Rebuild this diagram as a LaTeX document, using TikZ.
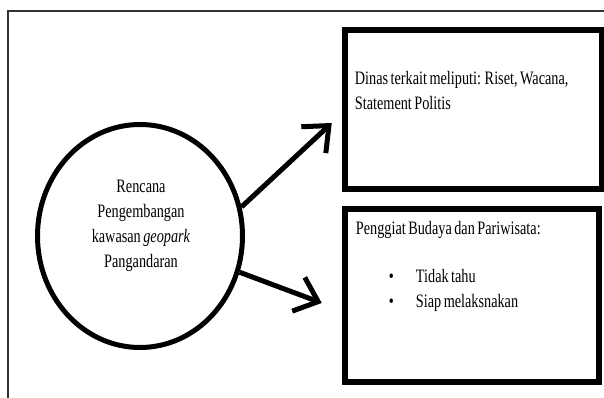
\documentclass[tikz,border=0pt]{standalone}
\usepackage{fontspec}
\setmainfont{Liberation Serif}[FakeStretch=0.75, WordSpace=0.7]
\usetikzlibrary{positioning,arrows.meta,shapes.geometric}
\definecolor{framegray}{RGB}{50,50,50}
\tikzset{
  planshape/.style={ellipse, draw, line width=5pt, minimum width=205pt,
                    minimum height=223pt, inner sep=0pt},
  infobox/.style={rectangle, draw, line width=6.5pt, inner sep=0pt},
  txt/.style={font=\fontsize{19}{25}\selectfont, inner sep=0pt, align=left},
  arrow/.style={-{Straight Barb[length=21pt, width=36pt]}, line width=5pt}
}

\begin{document}
\begin{tikzpicture}[x=1pt, y=1pt]
        \useasboundingbox (0,0) rectangle (604,398);
        \draw[framegray, line width=2.5pt] (604,387) -- (8,387) -- (8,0);
        \node[planshape] (plan) at (140,162) {};
        \node[txt, align=center] (plantxt) at ([xshift=1pt,yshift=10pt]plan.center)
              {Rencana\\Pengembangan\\kawasan \textit{geopark}\\Pangandaran};
        \node[infobox, minimum width=257pt, minimum height=159pt] (dinas) at (473.5,288.5) {};
        \node[txt, anchor=north west] (dinastxt) at ([shift={(13,-44)}]dinas.north west)
              {Dinas terkait meliputi: Riset, Wacana,\\Statement Politis};
        \node[infobox, minimum width=254pt, minimum height=173pt] (penggiat) at (472,102.5) {};
        \node[txt, anchor=north west] (penggiattxt) at ([shift={(14,-15)}]penggiat.north west)
              {Penggiat Budaya dan Pariwisata:};
        \node[txt, anchor=north west] (bullets) at ([shift={(47,-63)}]penggiat.north west)
              {\makebox[27pt][l]{\textbullet}Tidak tahu\\\makebox[27pt][l]{\textbullet}Siap melaksnakan};
        \draw[arrow] (plan.16) -- ([shift={(-10,-13.5)}]dinas.west);
        \draw[arrow] (plan.-20) -- ([shift={(-20,-7.5)}]penggiat.west);
      \end{tikzpicture}
\end{document}
